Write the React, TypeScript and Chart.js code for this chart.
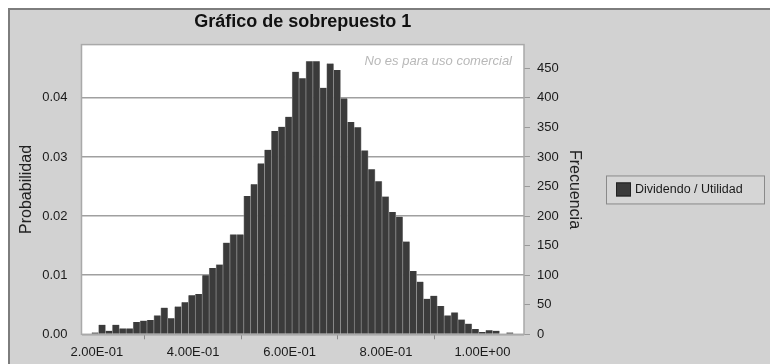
import React, { useEffect, useRef } from "react";
import { Chart, registerables } from "chart.js";

Chart.register(...registerables);

// ---- content ----
const chartTitle = "Gráfico de sobrepuesto 1";
const seriesLabel = "Dividendo / Utilidad";
const leftAxisTitle = "Probabilidad";
const rightAxisTitle = "Frecuencia";
const watermarkText = "No es para uso comercial";

// ---- histogram bins (value axis) ----
const binStart = 0.1894;
const binWidth = 0.01434;
// frequency per bin (total ~10000 trials)
const frequencies = [
  3, 16, 6, 16, 10, 10, 21, 23, 24, 32, 45, 27, 47, 54, 66, 68, 100, 112, 118, 155,
  169, 169, 234, 254, 289, 312, 344, 351, 368, 444, 433, 462, 462, 417, 458, 447, 399, 359, 350, 311,
  279, 259, 233, 207, 199, 157, 107, 89, 60, 65, 48, 32, 37, 25, 18, 9, 4, 7, 6, 0, 3,
];

// ---- axes ----
const xMin = 0.1683;
const xMax = 1.0863;
const xStep = 0.2;
const probMax = 0.049;
const probStep = 0.01;
const freqMax = 490;
const freqStep = 50;

const FONT = 'Arial, "Liberation Sans", Helvetica, sans-serif';
const BAR_COLOR = "#3b3b3b";

function sci(v: number): string {
  const [m, e] = v.toExponential(2).split("e");
  const n = parseInt(e, 10);
  return m + "E" + (n < 0 ? "-" : "+") + String(Math.abs(n)).padStart(2, "0");
}

const framePlugin = {
  id: "frame",
  beforeDraw(chart: any) {
    const { ctx, chartArea: a, width, height } = chart;
    ctx.save();
    ctx.fillStyle = "#ffffff";
    ctx.fillRect(0, 0, width, height);
    ctx.fillStyle = "#d2d2d2";
    ctx.fillRect(9, 9, width, height);
    ctx.strokeStyle = "#7d7d7d";
    ctx.lineWidth = 2;
    ctx.strokeRect(9, 9, width + 10, height + 10);
    ctx.fillStyle = "#ffffff";
    ctx.fillRect(a.left, a.top, a.right - a.left, a.bottom - a.top);
    ctx.restore();
  },
  afterDatasetsDraw(chart: any) {
    const { ctx, chartArea: a } = chart;
    ctx.save();
    ctx.strokeStyle = "#a9a9a9";
    ctx.lineWidth = 1.5;
    ctx.strokeRect(a.left, a.top, a.right - a.left, a.bottom - a.top);
    ctx.font = `italic 13px ${FONT}`;
    ctx.fillStyle = "#b8b8b8";
    ctx.textAlign = "right";
    ctx.textBaseline = "middle";
    ctx.fillText(watermarkText, a.right - 12, a.top + 17);
    ctx.restore();
  },
  afterDraw(chart: any) {
    const { ctx, chartArea: a } = chart;
    const label = chart.data.datasets[0].label;
    const left = a.right + 82;
    const w = 158;
    const h = 28;
    const top = (a.top + a.bottom) / 2 - h / 2;
    ctx.save();
    ctx.fillStyle = "#d6d6d6";
    ctx.fillRect(left, top, w, h);
    ctx.strokeStyle = "#8a8a8a";
    ctx.lineWidth = 1;
    ctx.strokeRect(left + 0.5, top + 0.5, w, h);
    ctx.fillStyle = BAR_COLOR;
    ctx.fillRect(left + 10, top + 7, 15, 14);
    ctx.strokeStyle = "#222";
    ctx.strokeRect(left + 10.5, top + 7.5, 14, 13);
    ctx.fillStyle = "#1a1a1a";
    ctx.font = `12.5px ${FONT}`;
    ctx.textAlign = "left";
    ctx.textBaseline = "middle";
    ctx.fillText(label, left + 29, top + h / 2 + 0.5);
    ctx.restore();
  },
};

export default function App() {
  const canvasRef = useRef<HTMLCanvasElement | null>(null);

  useEffect(() => {
    const canvas = canvasRef.current;
    if (!canvas) return;
    Chart.defaults.font.family = FONT;
    Chart.defaults.color = "#1a1a1a";

    const points = frequencies.map((f, i) => ({ x: binStart + (i + 0.5) * binWidth, y: f }));

    const chart = new Chart(canvas, {
      type: "bar",
      data: {
        datasets: [
          {
            label: seriesLabel,
            data: points as any,
            yAxisID: "y1",
            backgroundColor: BAR_COLOR,
            borderColor: "#8f8f8f",
            borderWidth: { left: 0.7, right: 0.7, top: 0, bottom: 0 } as any,
            barPercentage: 1,
            categoryPercentage: 1,
          },
        ],
      },
      options: {
        responsive: false,
        animation: false,
        events: [],
        layout: { padding: { left: 0, right: 186, top: 0, bottom: 0 } },
        plugins: {
          legend: { display: false },
          tooltip: { enabled: false },
          title: {
            display: true,
            text: chartTitle,
            fullSize: false,
            color: "#111",
            font: { size: 18, weight: "bold", family: FONT },
            padding: { top: 11, bottom: 12 },
          },
        },
        scales: {
          x: {
            type: "linear",
            min: xMin,
            max: xMax,
            offset: false,
            border: { display: false },
            grid: { display: true, drawOnChartArea: false, drawTicks: true, tickLength: 5, color: "#8a8a8a" },
            ticks: {
              stepSize: xStep,
              includeBounds: false,
              padding: 5,
              maxRotation: 0,
              autoSkip: false,
              font: { size: 13 },
              callback: (v: any) => sci(Number(v)),
            },
            afterFit: (s: any) => {
              s.height = 29.7;
            },
          },
          y: {
            type: "linear",
            position: "left",
            min: 0,
            max: probMax,
            border: { display: false },
            grid: { drawTicks: false, color: "#a0a0a0", lineWidth: 1.5 },
            title: {
              display: true,
              text: leftAxisTitle,
              font: { size: 16 },
              color: "#222",
              padding: { top: 17, bottom: 0 },
            },
            ticks: {
              stepSize: probStep,
              includeBounds: false,
              padding: 14,
              font: { size: 13 },
              callback: (v: any) => Number(v).toFixed(2),
            },
            afterFit: (s: any) => {
              s.width = 81.5;
            },
          },
          y1: {
            type: "linear",
            position: "right",
            min: 0,
            max: freqMax,
            border: { display: false },
            grid: { drawOnChartArea: false, drawTicks: true, tickLength: 6, color: "#999" },
            title: {
              display: true,
              text: rightAxisTitle,
              font: { size: 16 },
              color: "#222",
              padding: { top: 0, bottom: 0 },
            },
            ticks: {
              stepSize: freqStep,
              includeBounds: false,
              padding: 7,
              font: { size: 13 },
            },
            afterFit: (s: any) => {
              s.width = 60;
            },
          },
        },
      } as any,
      plugins: [framePlugin],
    });

    return () => chart.destroy();
  }, []);

  return (
    <div style={{ position: "absolute", left: 0, top: 0, width: 770, height: 364 }}>
      <canvas ref={canvasRef} width={770} height={364} style={{ display: "block" }} />
    </div>
  );
}
